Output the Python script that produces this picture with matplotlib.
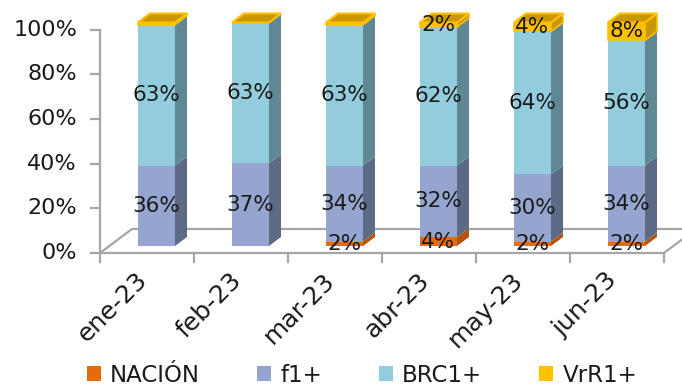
import numpy as np
import matplotlib
matplotlib.use("Agg")
import matplotlib.pyplot as plt
from matplotlib.patches import Polygon, Patch

# data (percent)
months = ["ene-23", "feb-23", "mar-23", "abr-23", "may-23", "jun-23"]
nacion = [0, 0, 2, 4, 2, 2]
f1 = [36, 37, 34, 32, 30, 34]
brc1 = [63, 63, 63, 62, 64, 56]
vrr1 = [1, 0, 1, 2, 4, 8]
yticks = [0, 20, 40, 60, 80, 100]

series_names = ["NACIÓN", "f1+", "BRC1+", "VrR1+"]
front_cols = ["#E46C0A", "#95A5CF", "#93CDDD", "#FFC000"]
side_cols = ["#B5540A", "#5C6A86", "#5E8893", "#C99700"]
top_cols = ["#C45C08", "#7A8AB0", "#7BB0BE", "#C99700"]

W, H = 682, 389
fig = plt.figure(figsize=(W / 100, H / 100), dpi=100)
ax = fig.add_axes([0, 0, 1, 1])

# pixel layout of the fake 3d plot
px_cat = 94.0      # pixels per category
px_pct = 2.235     # pixels per percent
x0_px, y0_px = 100, 253


def dx(p):
    return p / px_cat


def dy(p):
    return p / px_pct


ax.set_xlim(-0.5 - dx(x0_px), -0.5 + dx(W - x0_px))
ax.set_ylim(-dy(H - y0_px), dy(y0_px))
ax.axis("off")

grey = "#A6A6A6"
n = len(months)
x = np.arange(n)

# floor
fdx, fdy = dx(32), dy(24)
floor = Polygon([(-0.5, 0), (n - 0.5, 0), (n - 0.5 + fdx, fdy), (-0.5 + fdx, fdy)],
                closed=True, facecolor="white", edgecolor=grey, lw=1.6, zorder=1)
ax.add_patch(floor)

# y axis + ticks + labels
ax.plot([-0.5, -0.5], [0, 100], color=grey, lw=1.6, zorder=2)
for t in yticks:
    ax.plot([-0.5 - dx(9), -0.5], [t, t], color=grey, lw=1.6, zorder=2)
    ax.text(-0.5 - dx(23), t, f"{t}%", ha="right", va="center",
            fontsize=16, color="#1a1a1a")

# x ticks + rotated labels
for b in np.arange(n + 1) - 0.5:
    ax.plot([b, b], [0, -dy(9)], color=grey, lw=1.6, zorder=2)
for i, m in enumerate(months):
    ax.text(i - dx(12), -dy(15), m, rotation=45, ha="right", va="top",
            rotation_mode="anchor", fontsize=18, color="#1a1a1a")

# bars
bw = dx(37)
offx, offy = dx(9.5), dy(7)     # bar front plane behind axis plane
bdx, bdy = dx(12), dy(9)        # bar depth
series = [nacion, f1, brc1, vrr1]
for i in range(n):
    xc = x[i] + offx
    xl, xr = xc - bw / 2, xc + bw / 2
    bottom = 0.0
    top_k = max(k for k in range(4) if series[k][i] > 0 or k == 3)
    for k, vals in enumerate(series):
        v = vals[i]
        if v <= 0 and k != top_k:
            continue
        y1, y2 = bottom + offy, bottom + v + offy
        ec = "#FFC000" if k == 3 else "none"
        ax.bar(xc, v, width=bw, bottom=y1, color=front_cols[k],
               edgecolor=ec, lw=1.2, zorder=3 + i)
        side = Polygon([(xr, y1), (xr + bdx, y1 + bdy), (xr + bdx, y2 + bdy), (xr, y2)],
                       closed=True, facecolor=side_cols[k], edgecolor=ec, lw=1.2,
                       zorder=3 + i)
        ax.add_patch(side)
        if k == top_k:
            top = Polygon([(xl, y2), (xr, y2), (xr + bdx, y2 + bdy), (xl + bdx, y2 + bdy)],
                          closed=True, facecolor=top_cols[k], edgecolor=ec, lw=1.5,
                          zorder=3 + i)
            ax.add_patch(top)
        if v >= 2:
            ax.text(xc, bottom + v / 2 + offy, f"{v}%", ha="center", va="center",
                    fontsize=15.5, color="#1a1a1a", zorder=20)
        bottom += v

handles = [Patch(facecolor=c, edgecolor="none") for c in front_cols]
fig.legend(handles, series_names, loc="center", bbox_to_anchor=(362 / W, 1 - 375 / H),
           ncol=4, frameon=False, fontsize=16.5, handlelength=0.6, handleheight=0.6,
           handletextpad=0.4, columnspacing=2.5, labelcolor="#1a1a1a")

fig.savefig("out.png", dpi=100)
